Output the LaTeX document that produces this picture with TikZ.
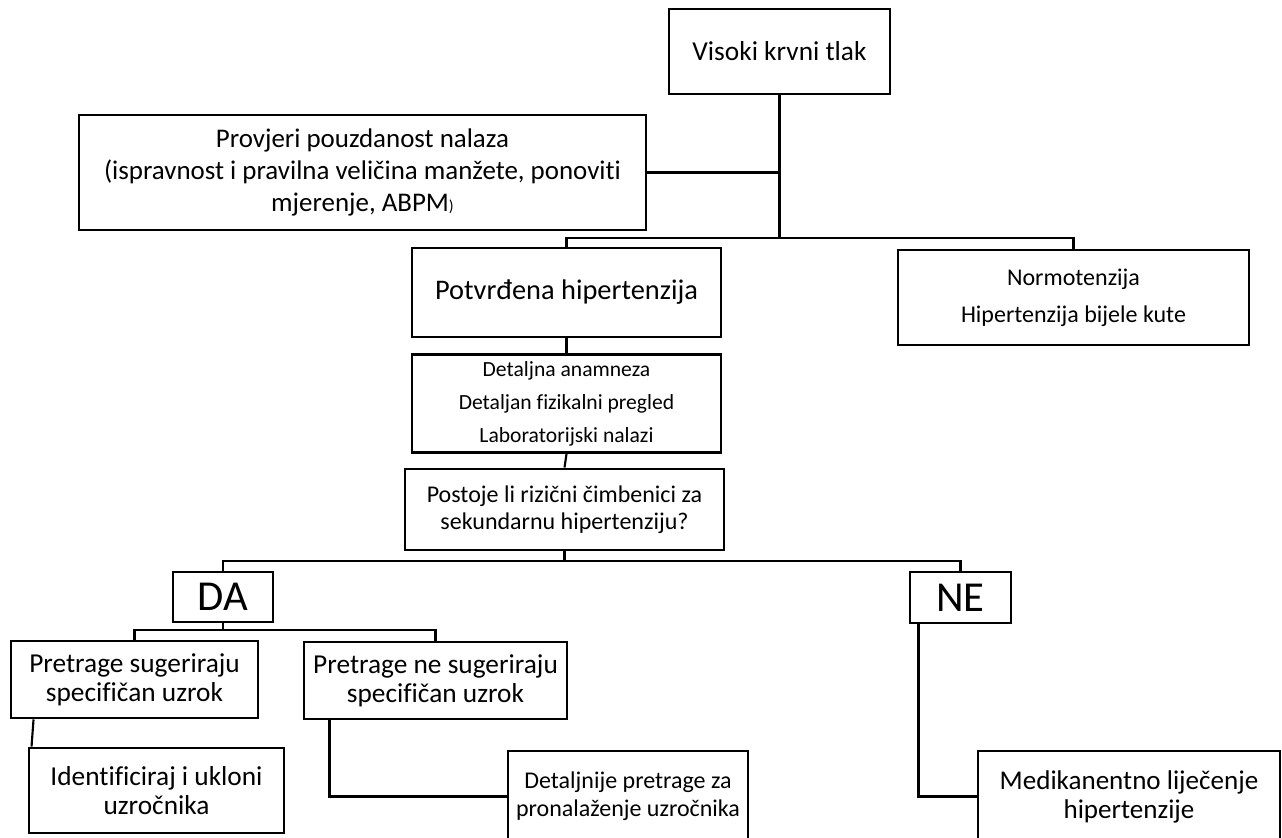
\documentclass[tikz,border=0pt]{standalone}
\usepackage{fontspec}
\setmainfont{Carlito}[Ligatures=CommonOff]

\begin{document}
\begin{tikzpicture}[
  x=0.75pt,
  y=-0.75pt,
  line cap=butt,
  line join=miter,
  box/.style={draw=black, line width=2.2pt, inner sep=0, align=center, fill=white},
  boxsize/.style 2 args={minimum width=#1*0.75pt, minimum height=#2*0.75pt},
  link/.style={draw=black, line width=1.6pt},
  big/.style={font=\fontsize{20.5}{22}\selectfont},
  mid/.style={font=\fontsize{18}{20}\selectfont},
  answer/.style={font=\fontsize{32}{34}\selectfont}
]
\path[use as bounding box] (0,0) rectangle (1282,838);
\clip (0,0) rectangle (1282,838);
\fill[white] (0,0) rectangle (1282,838);

% Upper part
\node[box, big, boxsize={221}{85}] (tlak) at (779.5,51.5) {Visoki krvni tlak};
\node[box, boxsize={567}{115}, font=\fontsize{20.2}{24}\selectfont] (provjeri) at (362.5,172.5)
  {Provjeri pouzdanost nalaza\\(ispravnost i pravilna veličina manžete, ponoviti\\mjerenje, ABPM{\fontsize{12}{14}\selectfont)}};
\node[box, boxsize={309}{89}, font=\fontsize{21.3}{23}\selectfont] (potvrdena) at (566.5,292.5) {Potvrđena hipertenzija};
\node[box, boxsize={351}{95}, font=\fontsize{18}{27.75}\selectfont] (normo) at (1073.5,297.5)
  {Normotenzija\\Hipertenzija bijele kute};
\node[box, boxsize={309}{98}, font=\fontsize{16.2}{24.75}\selectfont] (detaljna) at (566.5,403.5)
  {Detaljna anamneza\\Detaljan fizikalni pregled\\Laboratorijski nalazi};
\node[box, mid, boxsize={319}{81}] (postoje) at (564.5,509.5)
  {Postoje li rizični čimbenici za\\sekundarnu hipertenziju?};

% Answers
\node[box, answer, boxsize={100}{50}] (da) at (223,597) {DA};
\node[box, answer, boxsize={101}{51}] (ne) at (960.5,597.5) {NE};

% Lower part
\node[box, big, boxsize={247}{77}] (sug) at (134.5,679.5) {Pretrage sugeriraju\\specifičan uzrok};
\node[box, big, boxsize={263}{77}] (nesug) at (435.5,680.5) {Pretrage ne sugeriraju\\specifičan uzrok};
\node[box, big, boxsize={255}{85}] (ukloni) at (156.5,790.5) {Identificiraj i ukloni\\uzročnika};
\node[box, boxsize={240}{91}, font=\fontsize{18}{21}\selectfont] (detaljnije) at (628,796.5)
  {Detaljnije pretrage za\\pronalaženje uzročnika};
\node[box, boxsize={302}{91}, font=\fontsize{20.3}{21.75}\selectfont] (lijecenje) at (1129,796.5)
  {Medikanentno liječenje\\hipertenzije};

% Branch points
\coordinate (split1) at (779.5,238);
\coordinate (split2) at (564.5,561);
\coordinate (split3) at (223,630);

% Connections
\draw[link] (tlak.south) -- (split1);
\draw[link] (provjeri.east) -- (provjeri.east -| tlak.south);
\draw[link] (potvrdena.north) |- (split1) -| (normo.north);
\draw[link] (potvrdena.south) -- (detaljna.north);
\draw[link] (detaljna.south) -- (postoje.north);
\draw[link] (postoje.south) -- (split2);
\draw[link] (da.north) |- (split2) -| (ne.north);
\draw[link] (da.south) -- (split3);
\draw[link] (sug.north) |- (split3) -| (nesug.north);
\draw[link] ([xshift=18pt]sug.south west) -- ([xshift=3pt]ukloni.north west);
\draw[link] ([xshift=20.25pt]nesug.south west) |- (detaljnije.west);
\draw[link] ([xshift=7.5pt]ne.south west) |- (lijecenje.west);

\end{tikzpicture}
\end{document}
